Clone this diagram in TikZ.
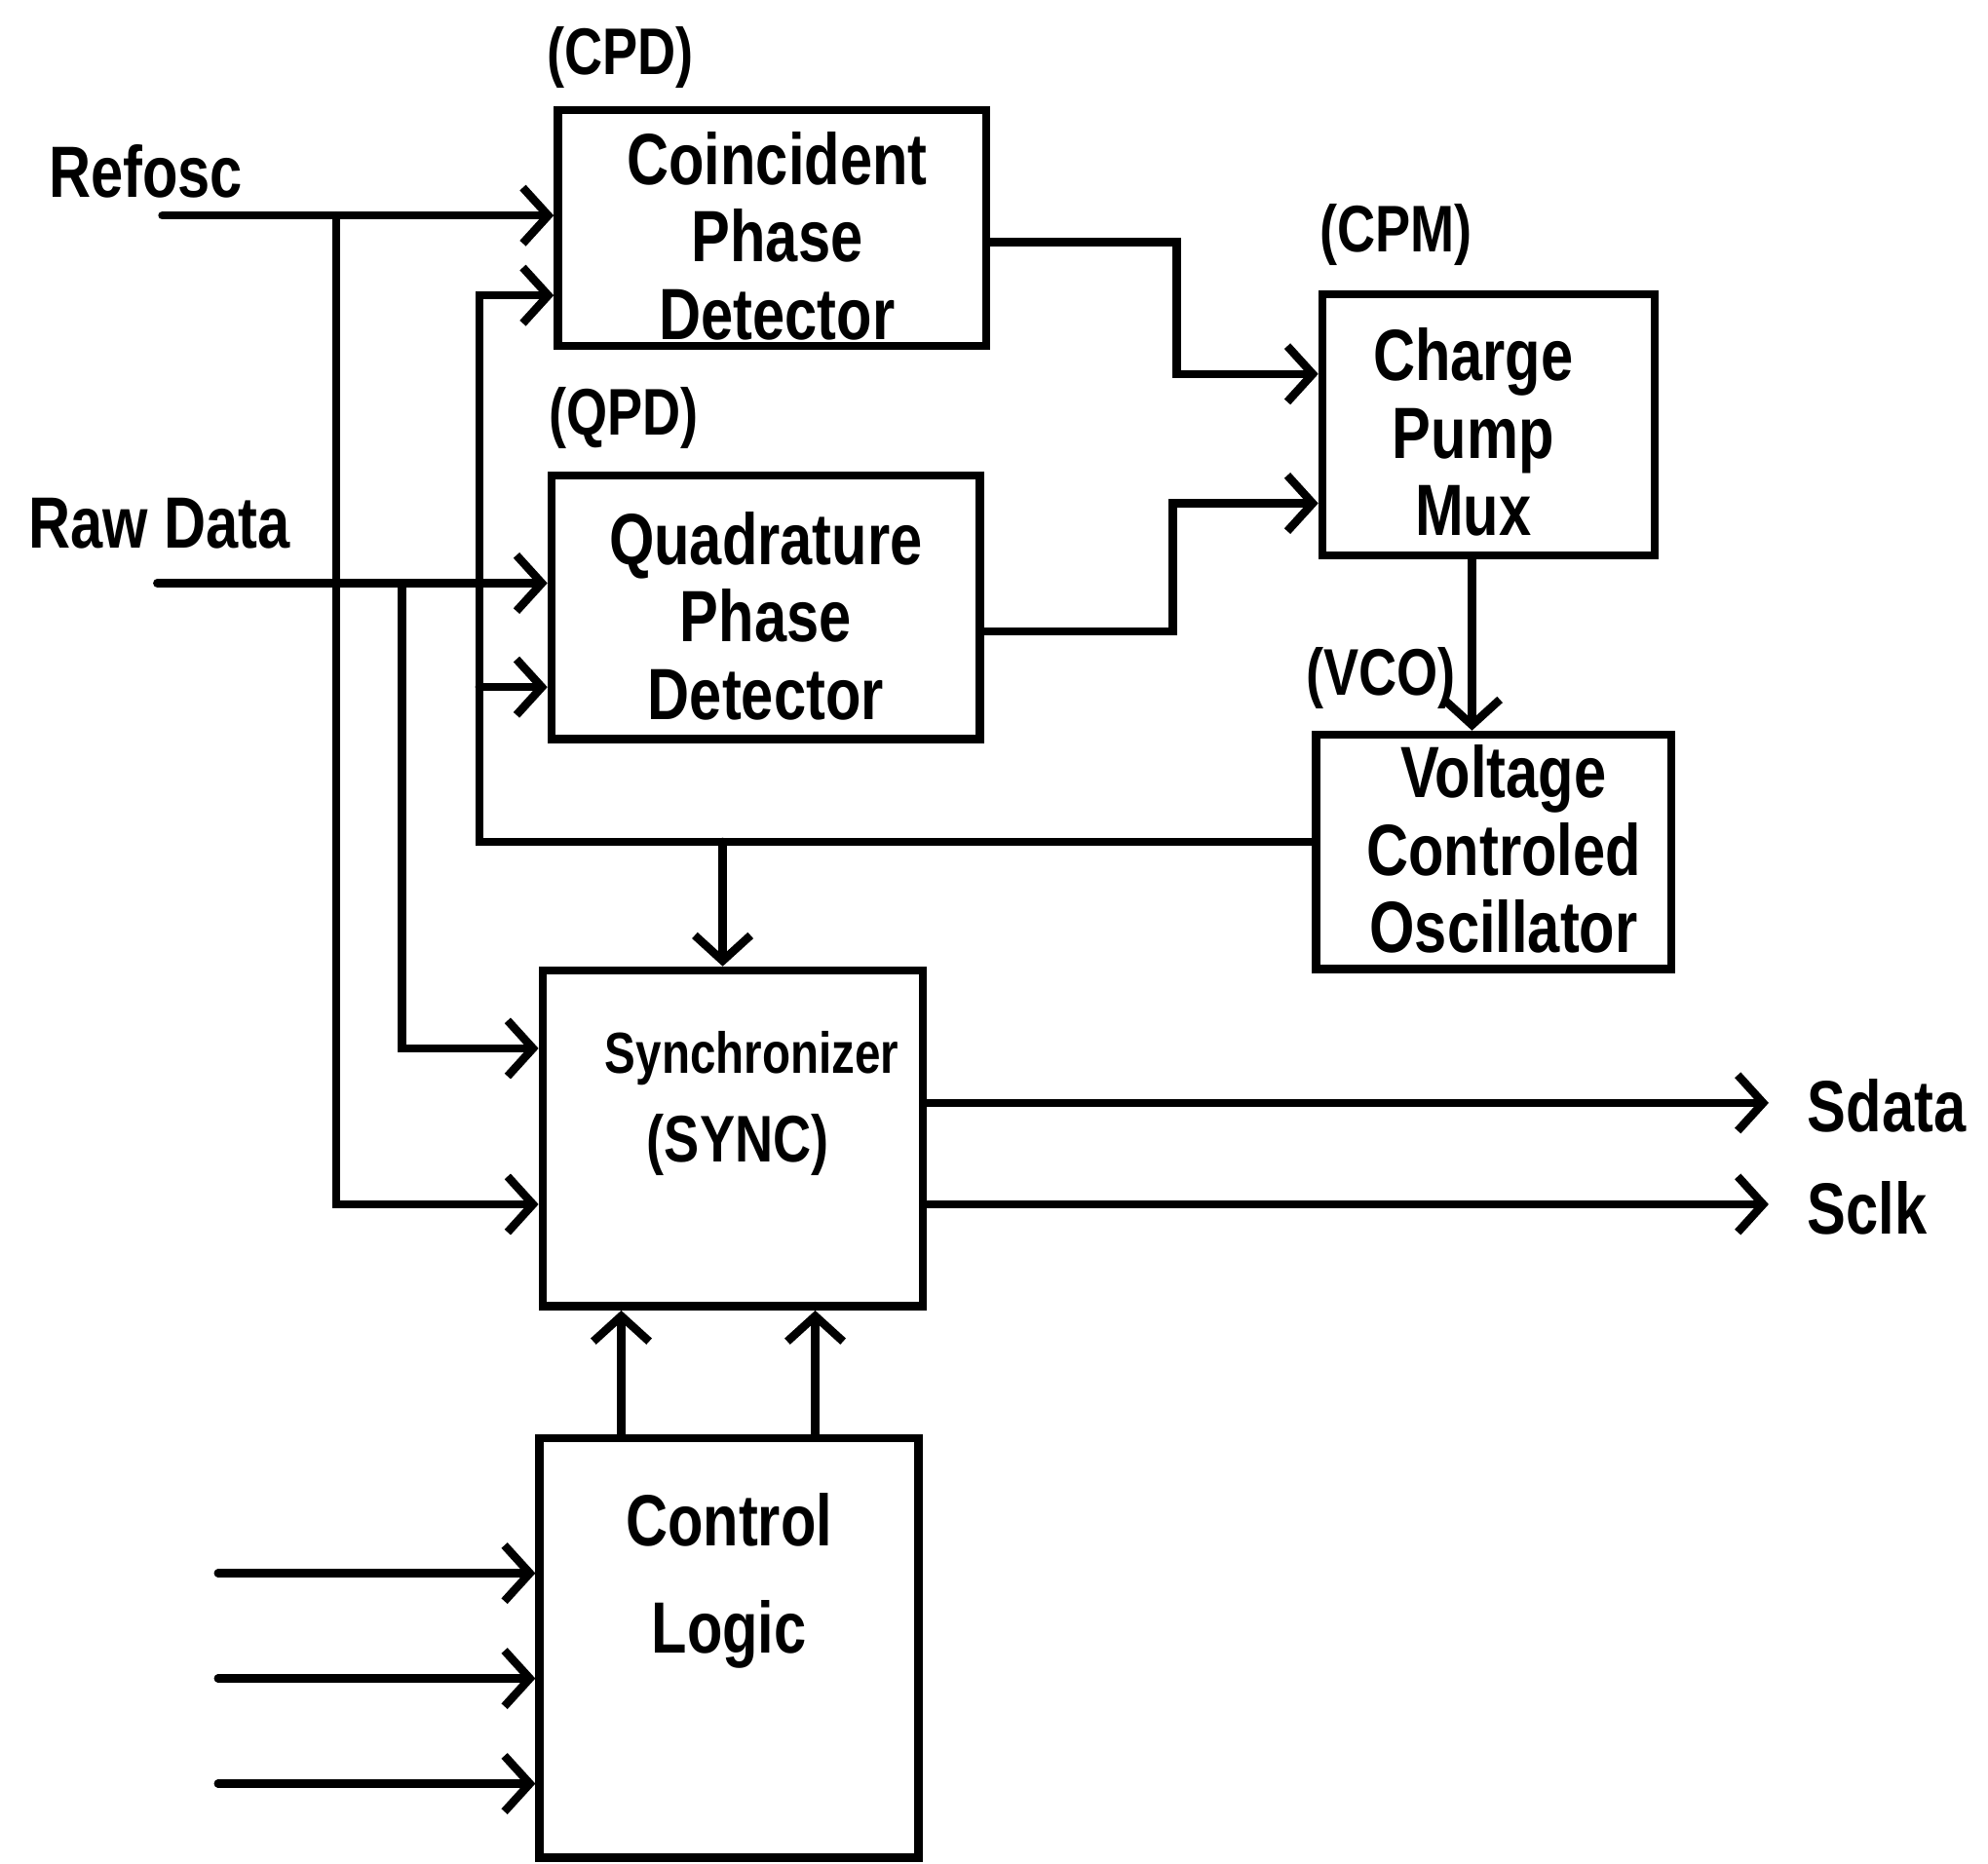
\documentclass[tikz,border=0pt]{standalone}
\usepackage{fontspec}
\setmainfont{Liberation Sans}[FakeStretch=0.8]
\usetikzlibrary{arrows.meta}
\newcommand\dgfont{\fontsize{16.3}{17.4}\selectfont\bfseries}
\newcommand\dglab{\fontsize{14.8}{16}\selectfont\bfseries}
\newcommand\dgsmall{\fontsize{13}{14}\selectfont\bfseries}
\begin{document}
\begin{tikzpicture}[x=0.1mm,y=-0.1mm,
  box/.style={draw, line width=0.65mm, inner sep=0pt},
  txt/.style={font=\dgfont, align=center, inner sep=0pt},
  lab/.style={font=\dglab, inner sep=0pt},
  conn/.style={line width=0.65mm, line cap=round, line join=miter},
  arr/.style={conn, -{Straight Barb[length=2mm,width=4.4mm]}}]
\useasboundingbox (0,0) rectangle (1568,1470);
% boxes
\node[box, minimum width=33.8mm, minimum height=18.6mm] (cpd) at (609,180) {};
\node[box, minimum width=33.8mm, minimum height=20.8mm] (qpd) at (604,479) {};
\node[box, minimum width=26.2mm, minimum height=20.6mm] (cpm) at (1174,335) {};
\node[box, minimum width=28.0mm, minimum height=18.5mm] (vco) at (1178,672) {};
\node[box, minimum width=30.0mm, minimum height=26.5mm] (sync) at (578,898) {};
\node[box, minimum width=29.9mm, minimum height=33.1mm] (ctrl) at (575,1300) {};
% box texts
\node[txt] (cpdt) at (613,186) {Coincident\\Phase\\Detector};
\node[txt] (qpdt) at (604,486) {Quadrature\\Phase\\Detector};
\node[txt] (cpmt) at (1162,341) {Charge\\Pump\\Mux};
\node[txt] (vcot) at (1186,670) {Voltage\\Controled\\Oscillator};
\node[txt, font=\dgsmall] (synct) at (593,835) {Synchronizer};
\node[lab] (syncn) at (582,903) {(SYNC)};
\node[txt, font=\fontsize{16.3}{24.2}\selectfont\bfseries] (ctrlt) at (575,1247) {Control\\Logic};
% labels
\node[lab] (cpdl) at (489,45) {(CPD)};
\node[lab] (qpdl) at (492,330) {(QPD)};
\node[lab] (cpml) at (1101,185) {(CPM)};
\node[lab] (vcol) at (1089,535) {(VCO)};
\node[txt, anchor=west] (refl) at (38,135) {Refosc};
\node[txt, anchor=west] (rawl) at (22,413) {Raw Data};
\node[txt, anchor=west] (sdl) at (1425,872) {Sdata};
\node[txt, anchor=west] (scl) at (1425,953) {Sclk};
% routing coordinates
\coordinate (refin) at (128,170);
\coordinate (refj) at (265,170);
\coordinate (rawin) at (124,460);
\coordinate (rawj) at (317,460);
\coordinate (sdi) at (317,827);
\coordinate (fbx) at (378,233);
\coordinate (fbq) at (378,542);
\coordinate (fbc) at (378,664);
\coordinate (fbs) at (570,664);
\coordinate (cpdo) at (928,191);
\coordinate (cpdi) at (928,295);
\coordinate (qpdo) at (925,498);
\coordinate (qpdi) at (925,397);
\coordinate (mv) at (1161,500);
\coordinate (sdo) at (1395,870);
\coordinate (sco) at (1395,950);
\coordinate (c1) at (490,1080);
\coordinate (c2) at (643,1080);
\coordinate (ci1) at (172,1241);
\coordinate (ci2) at (172,1324);
\coordinate (ci3) at (172,1407);
% connectors
\draw[arr] (refin) -- (refin -| cpd.west);
\draw[arr] (refj) |- (sco -| sync.west);
\draw[arr] (rawin) -- (rawin -| qpd.west);
\draw[arr] (rawj) -- (sdi) -- (sdi -| sync.west);
\draw[arr] (fbc -| vco.west) -- (fbc) -- (fbx) -- (fbx -| cpd.west);
\draw[arr] (fbq) -- (fbq -| qpd.west);
\draw[arr] (fbs) -- (fbs |- sync.north);
\draw[arr] (cpdo -| cpd.east) -- (cpdo) -- (cpdi) -- (cpdi -| cpm.west);
\draw[arr] (qpdo -| qpd.east) -- (qpdo) -- (qpdi) -- (qpdi -| cpm.west);
\draw[arr] (mv |- cpm.south) -- (mv |- vco.north);
\draw[arr] (sdo -| sync.east) -- (sdo);
\draw[arr] (sco -| sync.east) -- (sco);
\draw[arr] (c1 |- ctrl.north) -- (c1 |- sync.south);
\draw[arr] (c2 |- ctrl.north) -- (c2 |- sync.south);
\draw[arr] (ci1) -- (ci1 -| ctrl.west);
\draw[arr] (ci2) -- (ci2 -| ctrl.west);
\draw[arr] (ci3) -- (ci3 -| ctrl.west);
\end{tikzpicture}
\end{document}
